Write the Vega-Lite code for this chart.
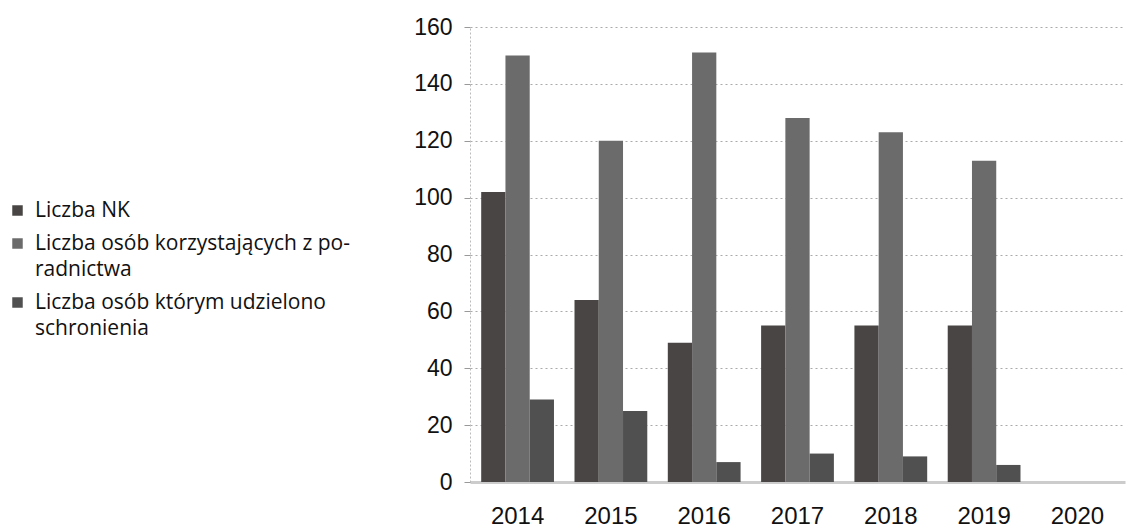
{
  "$schema": "https://vega.github.io/schema/vega-lite/v6.json",
  "autosize": "none",
  "padding": {"left": 470, "top": 27, "right": 8, "bottom": 45},
  "width": 655,
  "height": 455,
  "background": "white",
  "data": {
    "values": [
      {"rok": "2014", "seria": "Liczba NK", "wartosc": 102},
      {"rok": "2014", "seria": "Liczba osób korzystających z poradnictwa", "wartosc": 150},
      {"rok": "2014", "seria": "Liczba osób którym udzielono schronienia", "wartosc": 29},
      {"rok": "2015", "seria": "Liczba NK", "wartosc": 64},
      {"rok": "2015", "seria": "Liczba osób korzystających z poradnictwa", "wartosc": 120},
      {"rok": "2015", "seria": "Liczba osób którym udzielono schronienia", "wartosc": 25},
      {"rok": "2016", "seria": "Liczba NK", "wartosc": 49},
      {"rok": "2016", "seria": "Liczba osób korzystających z poradnictwa", "wartosc": 151},
      {"rok": "2016", "seria": "Liczba osób którym udzielono schronienia", "wartosc": 7},
      {"rok": "2017", "seria": "Liczba NK", "wartosc": 55},
      {"rok": "2017", "seria": "Liczba osób korzystających z poradnictwa", "wartosc": 128},
      {"rok": "2017", "seria": "Liczba osób którym udzielono schronienia", "wartosc": 10},
      {"rok": "2018", "seria": "Liczba NK", "wartosc": 55},
      {"rok": "2018", "seria": "Liczba osób korzystających z poradnictwa", "wartosc": 123},
      {"rok": "2018", "seria": "Liczba osób którym udzielono schronienia", "wartosc": 9},
      {"rok": "2019", "seria": "Liczba NK", "wartosc": 55},
      {"rok": "2019", "seria": "Liczba osób korzystających z poradnictwa", "wartosc": 113},
      {"rok": "2019", "seria": "Liczba osób którym udzielono schronienia", "wartosc": 6},
      {"rok": "2020", "seria": "Liczba NK", "wartosc": 0},
      {"rok": "2020", "seria": "Liczba osób korzystających z poradnictwa", "wartosc": 0},
      {"rok": "2020", "seria": "Liczba osób którym udzielono schronienia", "wartosc": 0}
    ]
  },
  "mark": {"type": "bar"},
  "encoding": {
    "x": {
      "field": "rok",
      "type": "nominal",
      "scale": {"paddingInner": 0.22, "paddingOuter": 0.12},
      "axis": {
        "title": null,
        "labelAngle": 0,
        "labelFont": "Liberation Sans",
        "labelFontSize": 24,
        "labelColor": "#111111",
        "labelPadding": 22,
        "labelBaseline": "top",
        "ticks": false,
        "domainColor": "#cccccc",
        "domainWidth": 3
      }
    },
    "xOffset": {
      "field": "seria",
      "type": "nominal",
      "sort": ["Liczba NK", "Liczba osób korzystających z poradnictwa", "Liczba osób którym udzielono schronienia"]
    },
    "y": {
      "field": "wartosc",
      "type": "quantitative",
      "scale": {"domain": [0, 160]},
      "axis": {
        "title": null,
        "values": [0, 20, 40, 60, 80, 100, 120, 140, 160],
        "labelFont": "Liberation Sans",
        "labelFontSize": 23,
        "labelColor": "#111111",
        "labelPadding": 12,
        "tickColor": "#999999",
        "tickSize": 6,
        "domainColor": "#bbbbbb",
        "domainDash": [2, 2],
        "gridColor": "#aaaaaa",
        "gridDash": [2, 3],
        "gridWidth": 1
      }
    },
    "color": {
      "field": "seria",
      "type": "nominal",
      "sort": ["Liczba NK", "Liczba osób korzystających z poradnictwa", "Liczba osób którym udzielono schronienia"],
      "scale": {
        "domain": ["Liczba NK", "Liczba osób korzystających z poradnictwa", "Liczba osób którym udzielono schronienia"],
        "range": ["#4a4545", "#6b6b6b", "#505050"]
      },
      "legend": {
        "title": null,
        "orient": "none",
        "legendX": -463,
        "legendY": 173,
        "symbolType": "square",
        "symbolSize": 110,
        "symbolStrokeWidth": 0,
        "labelFont": "Open Sans",
        "labelFontSize": 21,
        "labelColor": "#111111",
        "labelLimit": 400,
        "labelOffset": 7,
        "rowPadding": 11,
        "encode": {"labels": {"update": {"lineHeight": {"value": 26}}}},
        "labelExpr": "datum.label == 'Liczba osób korzystających z poradnictwa' ? ['Liczba osób korzystających z po-', 'radnictwa'] : datum.label == 'Liczba osób którym udzielono schronienia' ? ['Liczba osób którym udzielono', 'schronienia'] : datum.label"
      }
    }
  },
  "config": {
    "view": {"stroke": null}
  }
}
